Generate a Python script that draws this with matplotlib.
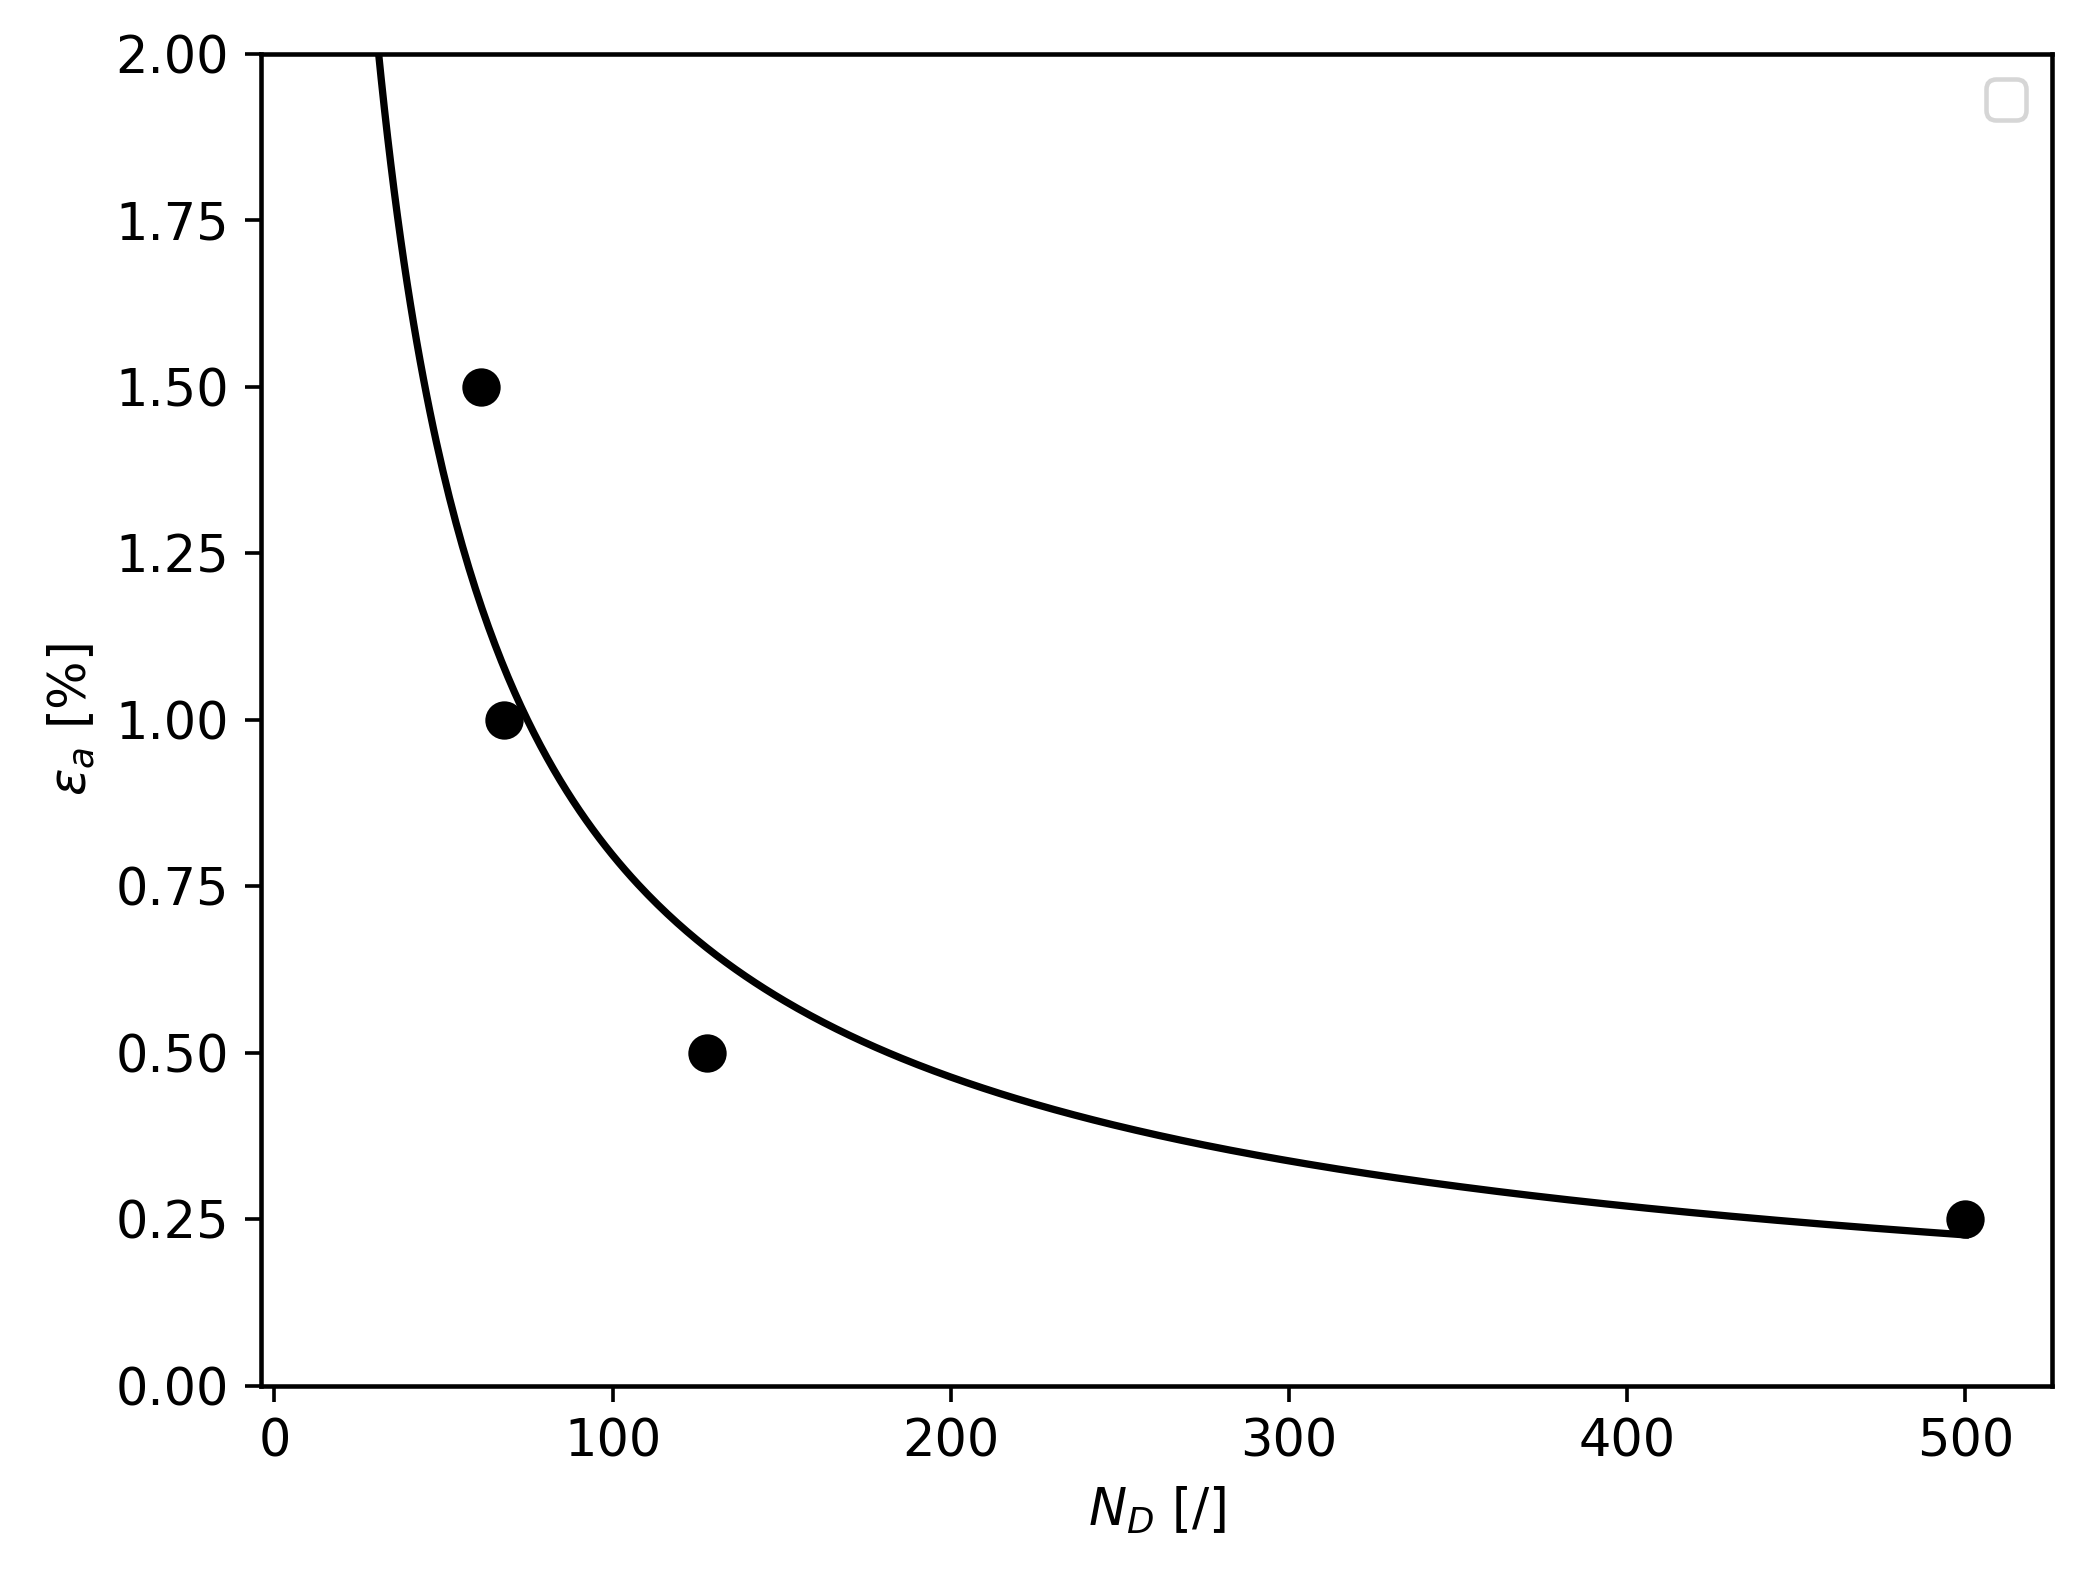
import numpy as np
import matplotlib
matplotlib.use("Agg")
import matplotlib.pyplot as plt

# measured points
n_d = [61, 68, 128, 500]
eps_a = [1.5, 1.0, 0.5, 0.25]

# power-law fit eps = a * N^b (done in log space)
b, log_a = np.polyfit(np.log(n_d), np.log(eps_a), 1)
n_fit = np.linspace(20, 500, 500)
eps_fit = np.exp(log_a) * n_fit ** b

plt.rcParams['font.size'] = 11.2
plt.rcParams['axes.linewidth'] = 1.0

fig = plt.figure(figsize=(2099 / 328, 1579 / 328), dpi=328)
ax = fig.add_axes([0.1243, 0.1225, 0.9776 - 0.1243, 0.9661 - 0.1225])

ax.scatter(n_d, eps_a, color='black', s=55, zorder=3)
ax.plot(n_fit, eps_fit, color='black', lw=1.6)

ax.set_xlim(-4, 525.6)
ax.set_ylim(0, 2)
ax.set_xlabel(r'$N_D$ [/]')
ax.set_ylabel(r'$\epsilon_a$ [%]')
ax.legend()

fig.savefig("out.png", dpi=328)
